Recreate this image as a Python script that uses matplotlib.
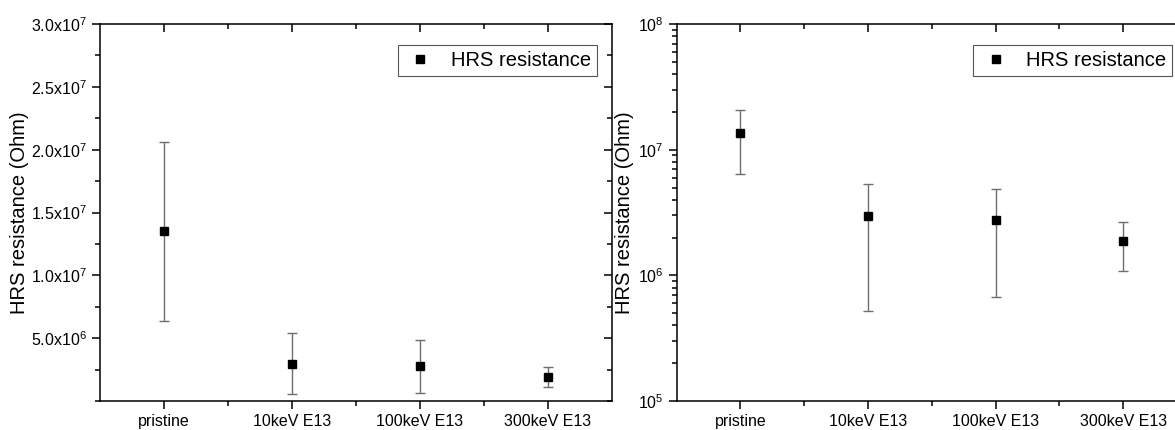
import matplotlib.pyplot as plt
import numpy as np
from matplotlib.lines import Line2D
from matplotlib.ticker import FixedLocator, MultipleLocator, LogLocator, NullFormatter

plt.rcParams['font.family'] = ['Liberation Sans', 'DejaVu Sans']
plt.rcParams['mathtext.fontset'] = 'custom'
plt.rcParams['mathtext.rm'] = 'Liberation Sans'
plt.rcParams['mathtext.it'] = 'Liberation Sans'

# data
kategori = ['pristine', '10keV E13', '100keV E13', '300keV E13']
hrs_mean = [1.35e7, 2.95e6, 2.75e6, 1.88e6]
hrs_err = [7.15e6, 2.43e6, 2.08e6, 0.8e6]
lin_ticks = [5e6, 1e7, 1.5e7, 2e7, 2.5e7, 3e7]
lin_labels = ['5.0x10$^{6}$', '1.0x10$^{7}$', '1.5x10$^{7}$',
              '2.0x10$^{7}$', '2.5x10$^{7}$', '3.0x10$^{7}$']
log_ticks = [1e5, 1e6, 1e7, 1e8]
log_labels = ['10$^{5}$', '10$^{6}$', '10$^{7}$', '10$^{8}$']

x = np.arange(len(kategori))
warna_err = '#6e6e6e'

fig = plt.figure(figsize=(11.75, 4.3), dpi=100)
ax1 = fig.add_axes([0.0851, 0.0674, 0.4355, 0.8767])
ax2 = fig.add_axes([0.5759, 0.0674, 0.4343, 0.8767])

for ax in (ax1, ax2):
    ax.errorbar(x, hrs_mean, yerr=hrs_err, fmt='s', color='black', ms=5.5,
                ecolor=warna_err, elinewidth=1.0, capsize=3.3, capthick=1.0)
    ax.set_xlim(-0.5, 3.5)
    ax.set_xticks(x)
    ax.set_xticklabels(kategori, fontsize=11.5)
    ax.xaxis.set_minor_locator(FixedLocator(x[:-1] + 0.5))
    ax.set_ylabel('HRS resistance (Ohm)', fontsize=14.5)
    for s in ax.spines.values():
        s.set_linewidth(1.1)
    ax.tick_params(which='both', direction='out', width=1.1, labelsize=11.5,
                   top=True, right=True)
    ax.tick_params(which='major', length=6)
    ax.tick_params(which='minor', length=3.5)
    # legend cuma kotak hitam, tanpa error bar
    proxy = Line2D([], [], ls='none', marker='s', color='black', ms=5.5)
    leg = ax.legend([proxy], ['HRS resistance'], loc='upper right',
                    bbox_to_anchor=(1 - 15 / 511, 1 - 21 / 377),
                    borderaxespad=0, fontsize=14.5, fancybox=False,
                    edgecolor='#555555', framealpha=1, handletextpad=0.7,
                    borderpad=0.3, handlelength=1.6)
    leg.get_frame().set_linewidth(0.8)

ax1.set_ylim(0, 3e7)
ax1.yaxis.set_major_locator(FixedLocator(lin_ticks))
ax1.set_yticklabels(lin_labels)
ax1.yaxis.set_minor_locator(MultipleLocator(2.5e6))

ax2.set_yscale('log')
ax2.set_ylim(1e5, 1e8)
ax2.yaxis.set_minor_locator(LogLocator(base=10, subs=np.arange(2, 10), numticks=10))
ax2.yaxis.set_minor_formatter(NullFormatter())
ax2.set_yticks(log_ticks)
ax2.set_yticklabels(log_labels)

# ticks di atas & kanan ngikut arah sumbu seberang (top ke bawah, right ke kiri)
for ax in (ax1, ax2):
    for t in ax.xaxis.get_major_ticks() + ax.xaxis.get_minor_ticks():
        t.tick2line.set_marker(3)
    for t in ax.yaxis.get_major_ticks() + ax.yaxis.get_minor_ticks():
        t.tick2line.set_marker(0)

ax1.yaxis.set_label_coords(-0.139, 0.5)
ax2.yaxis.set_label_coords(-0.083, 0.5)

plt.savefig('out.png', dpi=100)
